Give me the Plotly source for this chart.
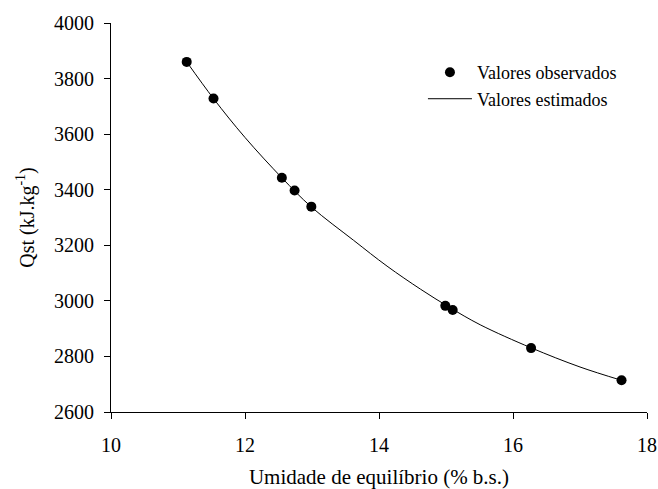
import plotly.graph_objects as go

obs_x = [11.13, 11.53, 12.55, 12.74, 12.99, 14.99, 15.10, 16.27, 17.62]
obs_y = [3860, 3728, 3443, 3397, 3339, 2982, 2967, 2830, 2714]

# Estimated curve values
est_x = [11.13, 11.53, 12.0, 12.55, 12.99, 13.62, 14.12, 14.62, 15.05, 15.51, 16.27, 17.0, 17.62]
est_y = [3860, 3728, 3588, 3443, 3338, 3218, 3125, 3042, 2977, 2914, 2831, 2762, 2714]

x_ticks = [10, 12, 14, 16, 18]
y_ticks = [2600, 2800, 3000, 3200, 3400, 3600, 3800, 4000]

FONT = "Liberation Serif"

fig = go.Figure()
fig.add_trace(go.Scatter(
    x=obs_x, y=obs_y, mode="markers", name="Valores observados",
    marker=dict(color="black", size=10),
))
fig.add_trace(go.Scatter(
    x=est_x, y=est_y, mode="lines", name="Valores estimados",
    line=dict(color="black", width=1, shape="spline"),
))

axis_common = dict(
    showline=True, linecolor="black", linewidth=1,
    ticks="outside", ticklen=6, tickwidth=1, tickcolor="black",
    showgrid=False, zeroline=False, mirror=False, automargin=False,
    tickfont=dict(family=FONT, size=20, color="black"),
)

fig.update_xaxes(
    range=[10, 18], tickvals=x_ticks, ticktext=[str(v) for v in x_ticks],
    title=dict(text="Umidade de equilíbrio (% b.s.)",
               font=dict(family=FONT, size=21, color="black"), standoff=23),
    ticklabelstandoff=9,
    **axis_common,
)
fig.update_yaxes(
    range=[2600, 4000], tickvals=y_ticks, ticktext=[str(v) for v in y_ticks],
    title=dict(text="Qst (kJ.kg<sup>-1</sup>)",
               font=dict(family=FONT, size=20, color="black"), standoff=14),
    ticklabelstandoff=6,
    **axis_common,
)

fig.update_layout(
    width=658, height=489,
    margin=dict(l=111, r=11, t=23, b=77, autoexpand=False),
    paper_bgcolor="white", plot_bgcolor="white",
    font=dict(family=FONT, color="black"),
    legend=dict(
        x=0.582, y=0.92, xanchor="left", yanchor="top",
        font=dict(family=FONT, size=18, color="black"),
        bgcolor="rgba(0,0,0,0)", borderwidth=0, tracegroupgap=0,
        itemwidth=44,
    ),
    showlegend=True,
)

fig.write_html(
    "out.html",
    config={"displayModeBar": False},
    post_script="document.body.style.margin='0';document.body.style.overflow='hidden';",
)
